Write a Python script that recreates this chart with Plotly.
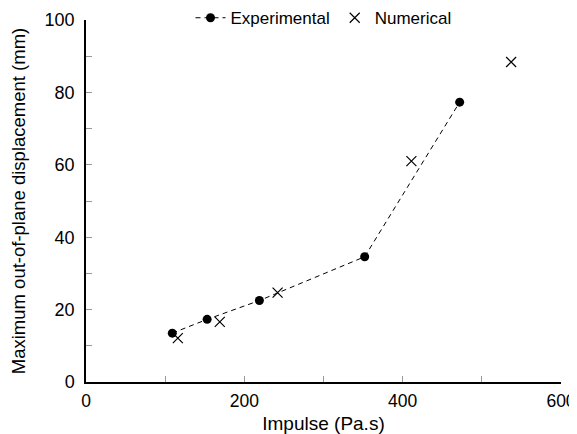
import plotly.graph_objects as go

exp_impulse = [109, 153, 219, 352, 472]
exp_disp = [13.5, 17.3, 22.5, 34.6, 77.3]
num_impulse = [116, 169, 242, 411, 537]
num_disp = [12.1, 16.6, 24.7, 61.0, 88.4]

x_tickvals = [0, 100, 200, 300, 400, 500, 600]
x_ticktext = ["0", "", "200", "", "400", "", "600"]
y_tickvals = [0, 10, 20, 30, 40, 50, 60, 70, 80, 90, 100]
y_ticktext = ["0", "", "20", "", "40", "", "60", "", "80", "", "100"]

fig = go.Figure()
fig.add_trace(go.Scatter(
    x=exp_impulse, y=exp_disp, mode="lines+markers", name="Experimental",
    line=dict(color="black", width=1, dash="5px,4px"),
    marker=dict(symbol="circle", size=9, color="black"),
))
fig.add_trace(go.Scatter(
    x=num_impulse, y=num_disp, mode="markers", name="Numerical",
    marker=dict(symbol="x-thin-open", size=10, color="black",
                line=dict(width=1.2, color="black")),
))

font_family = "Liberation Sans, Arial, sans-serif"
fig.update_layout(
    width=569, height=426,
    margin=dict(l=78, r=16, t=12, b=52, autoexpand=False),
    paper_bgcolor="white", plot_bgcolor="white",
    font=dict(family=font_family, size=17, color="black"),
    showlegend=True,
    legend=dict(orientation="h", x=0.5, xanchor="center", y=1.005, yanchor="middle",
                font=dict(size=17), bgcolor="rgba(0,0,0,0)", itemwidth=30,
                tracegroupgap=0),
    xaxis=dict(range=[0, 600], tickvals=x_tickvals, ticktext=x_ticktext,
               ticks="inside", ticklen=6, tickcolor="#999", tickwidth=1,
               showline=True, linecolor="black", linewidth=1.5,
               showgrid=False, zeroline=False, automargin=False,
               tickfont=dict(size=17.5), ticklabelstandoff=2,
               title=dict(text="Impulse (Pa.s)", standoff=12, font=dict(size=19))),
    yaxis=dict(range=[0, 100], tickvals=y_tickvals, ticktext=y_ticktext,
               ticks="inside", ticklen=6, tickcolor="#999", tickwidth=1,
               showline=True, linecolor="black", linewidth=1.5,
               showgrid=False, zeroline=False, automargin=False,
               tickfont=dict(size=18), ticklabelstandoff=6,
               title=dict(text="Maximum out-of-plane displacement (mm)", standoff=17,
                          font=dict(size=18.5))),
)

fig.write_html("out.html")
